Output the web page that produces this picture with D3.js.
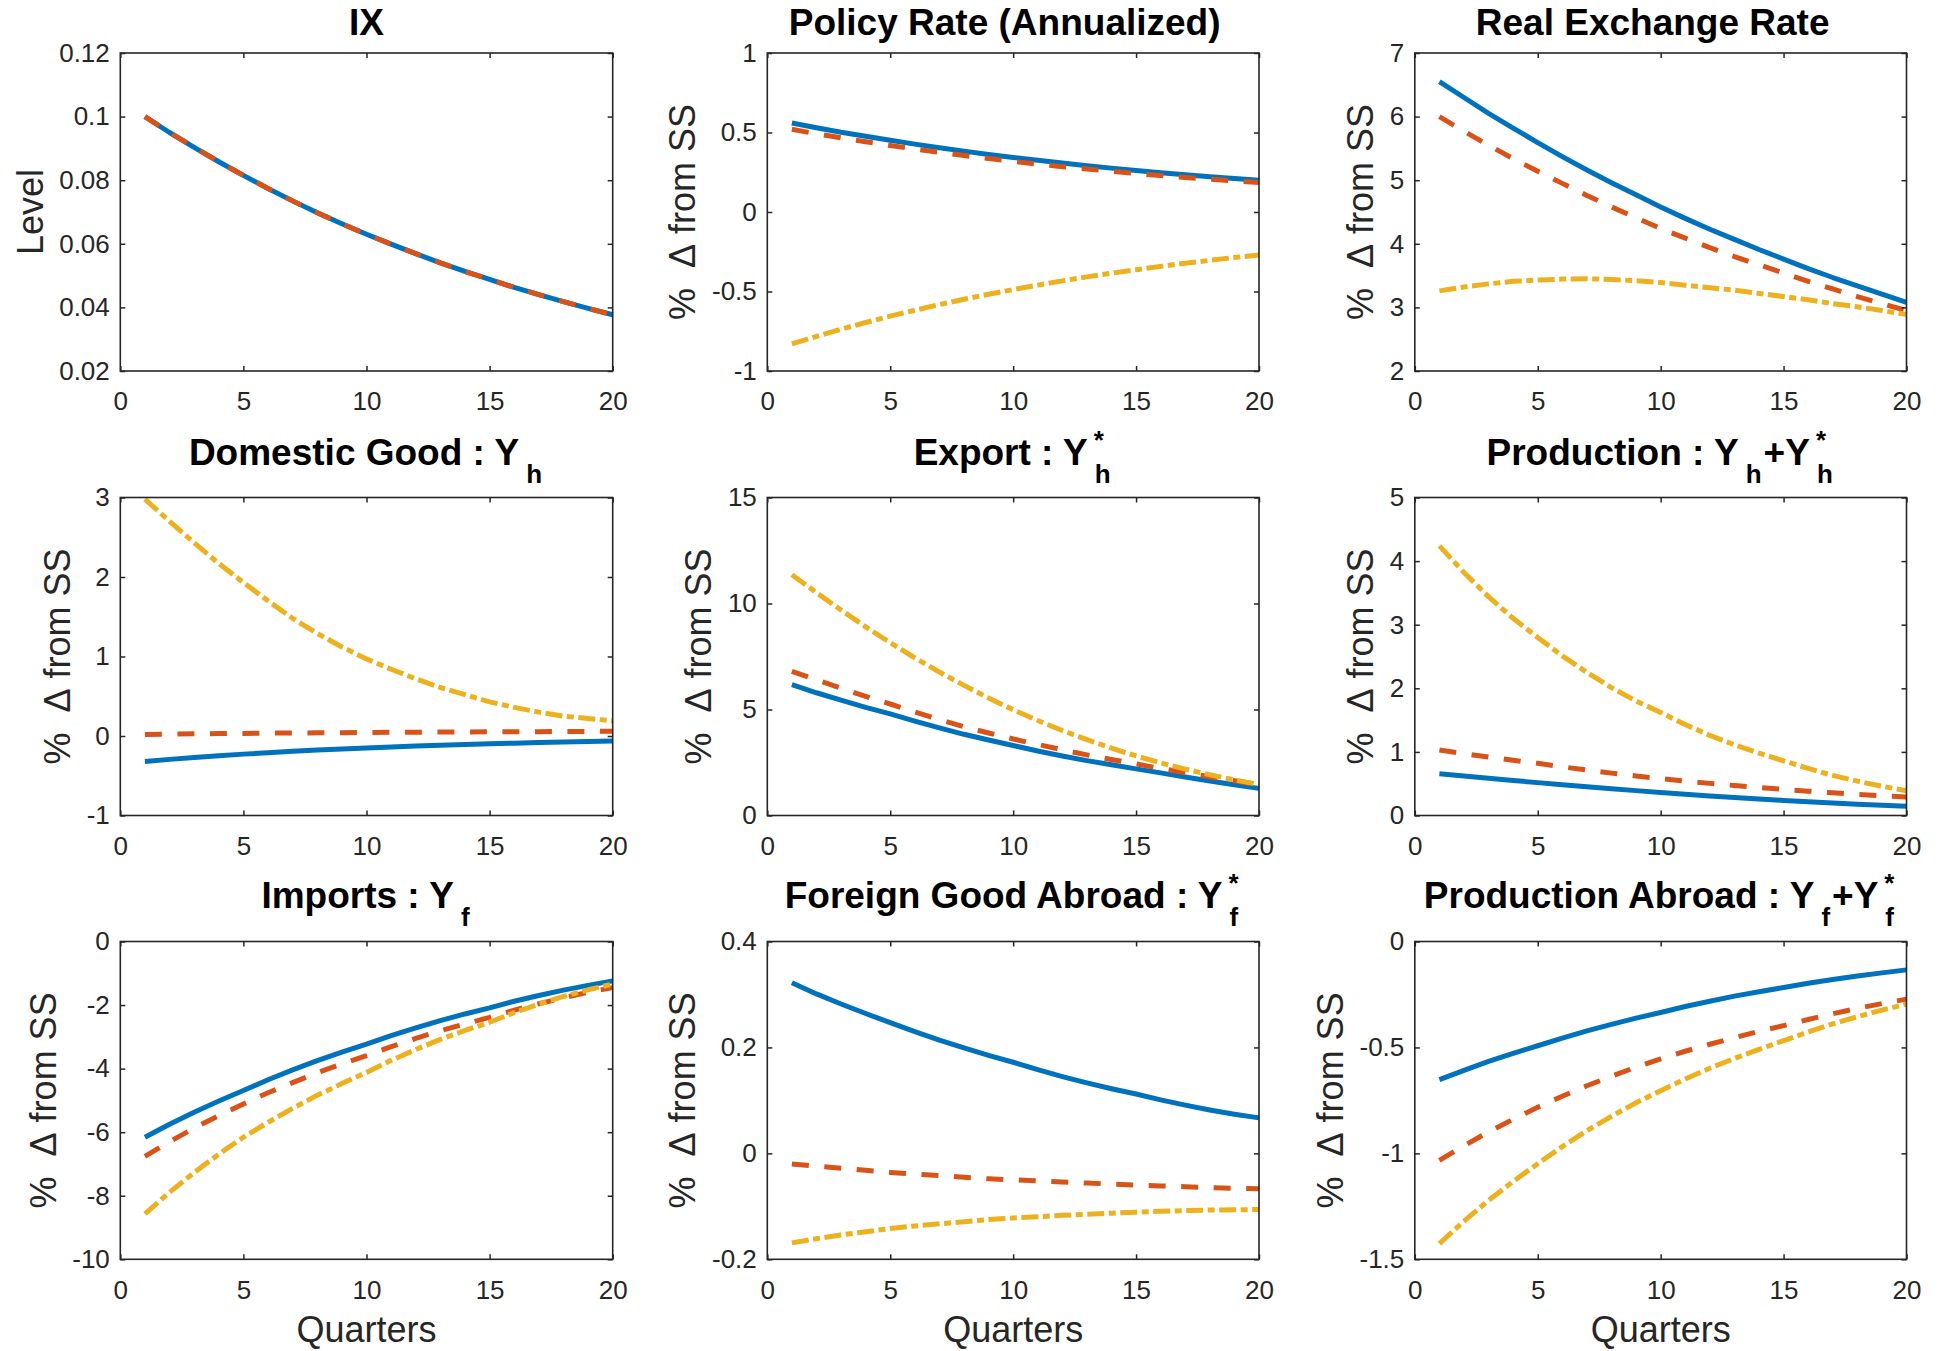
<!DOCTYPE html>
<html>
<head>
<meta charset="utf-8">
<script src="https://cdn.jsdelivr.net/npm/d3@7"></script>
<style>
  html, body { margin: 0; padding: 0; background: #ffffff; }
  svg text { font-family: "Liberation Sans", Arial, Helvetica, sans-serif; }
</style>
</head>
<body>
<svg id="fig" width="1944" height="1351"></svg>
<script>
// ---- data -------------------------------------------------------------
const quarters = [1,2,3,4,5,6,7,8,9,10,11,12,13,14,15,16,17,18,19,20];
const xTicks = [0,5,10,15,20];

// IX
const ixTicks = [0.02,0.04,0.06,0.08,0.1,0.12];
const ixS1 = [0.1000,0.0950,0.0903,0.0858,0.0815,0.0774,0.0735,0.0698,0.0663,0.0630,0.0599,0.0569,0.0540,0.0513,0.0488,0.0463,0.0440,0.0418,0.0397,0.0377];
const ixS2 = [0.1000,0.0950,0.0903,0.0858,0.0815,0.0774,0.0735,0.0698,0.0663,0.0630,0.0599,0.0569,0.0540,0.0513,0.0488,0.0463,0.0440,0.0418,0.0397,0.0377];

// Policy rate (annualized)
const rateTicks = [-1,-0.5,0,0.5,1];
const rateS1 = [0.560,0.530,0.502,0.476,0.451,0.427,0.404,0.383,0.362,0.343,0.325,0.308,0.291,0.276,0.261,0.247,0.234,0.222,0.210,0.199];
const rateS2 = [0.520,0.492,0.466,0.442,0.418,0.396,0.375,0.355,0.336,0.318,0.301,0.285,0.270,0.256,0.242,0.229,0.217,0.206,0.195,0.185];
const rateS3 = [-0.830,-0.782,-0.737,-0.695,-0.655,-0.618,-0.582,-0.549,-0.517,-0.488,-0.460,-0.433,-0.408,-0.385,-0.363,-0.342,-0.322,-0.304,-0.286,-0.270];

// Real exchange rate
const rerTicks = [2,3,4,5,6,7];
const rerS1 = [6.55,6.30,6.05,5.82,5.59,5.37,5.16,4.96,4.77,4.58,4.40,4.23,4.07,3.91,3.76,3.61,3.47,3.34,3.21,3.08];
const rerS2 = [6.00,5.77,5.55,5.34,5.14,4.95,4.76,4.58,4.41,4.24,4.09,3.94,3.80,3.67,3.54,3.41,3.29,3.17,3.06,2.95];
const rerS3 = [3.26,3.32,3.37,3.41,3.43,3.445,3.45,3.44,3.42,3.39,3.35,3.31,3.27,3.22,3.17,3.12,3.06,3.01,2.95,2.89];

// Domestic good
const yhTicks = [-1,0,1,2,3];
const yhS1 = [-0.320,-0.294,-0.270,-0.248,-0.228,-0.210,-0.193,-0.177,-0.163,-0.150,-0.138,-0.126,-0.116,-0.107,-0.098,-0.090,-0.083,-0.076,-0.070,-0.064];
const yhS2 = [0.020,0.024,0.027,0.030,0.033,0.036,0.038,0.040,0.042,0.044,0.046,0.048,0.050,0.051,0.053,0.054,0.055,0.057,0.058,0.059];
const yhS3 = [2.98,2.70,2.43,2.17,1.93,1.70,1.48,1.29,1.12,0.97,0.84,0.72,0.61,0.52,0.43,0.36,0.30,0.25,0.22,0.19];

// Export
const exTicks = [0,5,10,15];
const exS1 = [6.17,5.79,5.44,5.10,4.79,4.45,4.13,3.83,3.56,3.30,3.04,2.81,2.59,2.39,2.20,2.01,1.82,1.63,1.45,1.28];
const exS2 = [6.80,6.40,6.00,5.62,5.26,4.88,4.52,4.19,3.89,3.61,3.35,3.10,2.86,2.64,2.43,2.22,2.02,1.83,1.64,1.45];
const exS3 = [11.36,10.51,9.69,8.90,8.15,7.44,6.77,6.14,5.54,4.99,4.48,4.01,3.58,3.18,2.81,2.48,2.19,1.92,1.68,1.46];

// Production
const prodTicks = [0,1,2,3,4,5];
const prodS1 = [0.655,0.620,0.585,0.551,0.517,0.484,0.452,0.421,0.391,0.362,0.334,0.308,0.283,0.259,0.237,0.216,0.196,0.178,0.161,0.145];
const prodS2 = [1.030,0.973,0.920,0.868,0.820,0.765,0.714,0.666,0.622,0.580,0.541,0.505,0.471,0.440,0.410,0.383,0.357,0.333,0.311,0.290];
const prodS3 = [4.24,3.82,3.44,3.10,2.80,2.51,2.25,2.01,1.80,1.62,1.43,1.26,1.11,0.98,0.86,0.74,0.63,0.54,0.46,0.39];

// Imports
const impTicks = [-10,-8,-6,-4,-2,0];
const impS1 = [-6.16,-5.75,-5.37,-5.02,-4.69,-4.35,-4.04,-3.75,-3.48,-3.23,-2.96,-2.72,-2.49,-2.28,-2.09,-1.88,-1.70,-1.53,-1.38,-1.24];
const impS2 = [-6.76,-6.30,-5.87,-5.48,-5.11,-4.76,-4.44,-4.13,-3.85,-3.59,-3.31,-3.05,-2.81,-2.59,-2.39,-2.16,-1.96,-1.77,-1.60,-1.45];
const impS3 = [-8.57,-7.89,-7.27,-6.69,-6.16,-5.69,-5.25,-4.84,-4.47,-4.12,-3.74,-3.40,-3.08,-2.80,-2.54,-2.24,-1.97,-1.73,-1.52,-1.34];

// Foreign good abroad
const yfsTicks = [-0.2,0,0.2,0.4];
const yfsS1 = [0.322,0.301,0.282,0.264,0.247,0.230,0.214,0.199,0.185,0.172,0.158,0.145,0.133,0.122,0.112,0.101,0.091,0.082,0.074,0.067];
const yfsS2 = [-0.020,-0.024,-0.028,-0.032,-0.036,-0.039,-0.042,-0.045,-0.048,-0.050,-0.052,-0.054,-0.056,-0.058,-0.060,-0.0615,-0.063,-0.0645,-0.066,-0.067];
const yfsS3 = [-0.169,-0.161,-0.154,-0.148,-0.142,-0.137,-0.133,-0.129,-0.125,-0.122,-0.1195,-0.117,-0.115,-0.113,-0.111,-0.1095,-0.108,-0.107,-0.1065,-0.106];

// Production abroad
const pabTicks = [-1.5,-1,-0.5,0];
const pabS1 = [-0.652,-0.608,-0.566,-0.528,-0.492,-0.456,-0.422,-0.391,-0.362,-0.335,-0.307,-0.282,-0.258,-0.237,-0.217,-0.197,-0.179,-0.163,-0.148,-0.134];
const pabS2 = [-1.033,-0.964,-0.899,-0.839,-0.782,-0.730,-0.681,-0.636,-0.593,-0.554,-0.518,-0.485,-0.454,-0.424,-0.397,-0.368,-0.341,-0.316,-0.293,-0.272];
const pabS3 = [-1.426,-1.320,-1.222,-1.132,-1.049,-0.968,-0.893,-0.825,-0.761,-0.704,-0.649,-0.598,-0.552,-0.509,-0.468,-0.427,-0.389,-0.355,-0.324,-0.295];

// ---- panel definitions -----------------------------------------------
const pctLabel = "% Δ from SS";
const panels = [
  { title: [{t: "IX"}], ylabel: "Level", ticks: ixTicks, series: [ixS1, ixS2] },
  { title: [{t: "Policy Rate (Annualized)"}], ylabel: pctLabel, ticks: rateTicks, series: [rateS1, rateS2, rateS3] },
  { title: [{t: "Real Exchange Rate"}], ylabel: pctLabel, ticks: rerTicks, series: [rerS1, rerS2, rerS3] },
  { title: [{t: "Domestic Good : Y"}, {sub: "h"}], ylabel: pctLabel, ticks: yhTicks, series: [yhS1, yhS2, yhS3] },
  { title: [{t: "Export : Y"}, {sub: "h", sup: "*"}], ylabel: pctLabel, ticks: exTicks, series: [exS1, exS2, exS3] },
  { title: [{t: "Production : Y"}, {sub: "h"}, {t: "+Y"}, {sub: "h", sup: "*"}], ylabel: pctLabel, ticks: prodTicks, series: [prodS1, prodS2, prodS3] },
  { title: [{t: "Imports : Y"}, {sub: "f"}], ylabel: pctLabel, ticks: impTicks, series: [impS1, impS2, impS3], xlabel: "Quarters" },
  { title: [{t: "Foreign Good Abroad : Y"}, {sub: "f", sup: "*"}], ylabel: pctLabel, ticks: yfsTicks, series: [yfsS1, yfsS2, yfsS3], xlabel: "Quarters" },
  { title: [{t: "Production Abroad : Y"}, {sub: "f"}, {t: "+Y"}, {sub: "f", sup: "*"}], ylabel: pctLabel, ticks: pabTicks, series: [pabS1, pabS2, pabS3], xlabel: "Quarters" }
];

const lineStyles = [
  { color: "#0072BD", dash: null },
  { color: "#D95319", dash: "17,15.5" },
  { color: "#EDB120", dash: "17,4.5,7,4.5" }
];

// ---- layout -------------------------------------------------------------
const colX = [[120.3, 612.7], [767.3, 1259.0], [1414.8, 1906.5]];
const rowY = [[53.0, 371.0], [497.5, 815.5], [941.5, 1259.3]];
const titleBase = [35, 465, 908];
const titleShift = [0, -8.5, -8, 0, 0, 0, 0, 0, 0];
const axisColor = "#262626";
const tickFont = 26, labelFont = 36, titleFont = 37;

const svg = d3.select("#fig");

// Title with TeX-like sub/superscripts laid out token by token
function drawTitle(g, tokens, cx, baseline) {
  const tg = g.append("g").attr("font-weight", "bold").attr("fill", "#000");
  let x = 0;
  const small = Math.round(titleFont * 0.7);
  tokens.forEach(tok => {
    if (tok.t !== undefined) {
      const el = tg.append("text").attr("x", x).attr("y", 0)
        .attr("font-size", titleFont).text(tok.t);
      x += el.node().getComputedTextLength();
    } else {
      x += 7;
      let w = 0;
      const s = tg.append("text").attr("x", x).attr("y", 17.5)
        .attr("font-size", small).text(tok.sub);
      w = Math.max(w, s.node().getComputedTextLength());
      if (tok.sup) {
        const p = tg.append("text").attr("x", x - 1).attr("y", -16)
          .attr("font-size", small).text(tok.sup);
        w = Math.max(w, p.node().getComputedTextLength());
      }
      x += w + 2;
    }
  });
  tg.attr("transform", `translate(${cx - x / 2},${baseline})`);
}

panels.forEach((p, i) => {
  const r = Math.floor(i / 3), c = i % 3;
  const [x0, x1] = colX[c], [y0, y1] = rowY[r];
  const x = d3.scaleLinear().domain([0, 20]).range([x0, x1]);
  const y = d3.scaleLinear().domain(d3.extent(p.ticks)).range([y1, y0]);
  const g = svg.append("g");

  // plotted responses
  const line = d3.line().x((d, k) => x(quarters[k])).y(d => y(d));
  p.series.forEach((vals, k) => {
    const st = lineStyles[k];
    g.append("path").datum(vals)
      .attr("d", line)
      .attr("fill", "none")
      .attr("stroke", st.color)
      .attr("stroke-width", 5)
      .attr("stroke-linejoin", "round")
      .attr("stroke-dasharray", st.dash);
  });

  // axes with inward ticks on all four sides
  const fmt = d => String(d);
  const ax = [
    g.append("g").attr("transform", `translate(0,${y1})`)
      .call(d3.axisBottom(x).tickValues(xTicks).tickFormat(fmt).tickSize(-5).tickPadding(21)),
    g.append("g").attr("transform", `translate(0,${y0})`)
      .call(d3.axisTop(x).tickValues(xTicks).tickFormat("").tickSize(-5)),
    g.append("g").attr("transform", `translate(${x0},0)`)
      .call(d3.axisLeft(y).tickValues(p.ticks).tickFormat(fmt).tickSize(-5).tickPadding(10.5)),
    g.append("g").attr("transform", `translate(${x1},0)`)
      .call(d3.axisRight(y).tickValues(p.ticks).tickFormat("").tickSize(-5))
  ];
  ax.forEach(a => {
    a.select(".domain").remove();
    a.selectAll("line").attr("stroke", axisColor).attr("stroke-width", 1.5);
    a.selectAll("text").attr("fill", axisColor).attr("font-size", tickFont)
      .attr("font-family", "Liberation Sans, Arial, sans-serif");
  });
  g.append("rect").attr("x", x0).attr("y", y0)
    .attr("width", x1 - x0).attr("height", y1 - y0)
    .attr("fill", "none").attr("stroke", axisColor).attr("stroke-width", 1.6);

  // y label placed clear of the widest tick label
  let maxW = 0;
  ax[2].selectAll("text").each(function () { maxW = Math.max(maxW, this.getComputedTextLength()); });
  const lx = x0 - 10.5 - maxW - 16.5;
  const yl = g.append("text")
    .attr("transform", `translate(${lx},${(y0 + y1) / 2}) rotate(-90)`)
    .attr("text-anchor", "middle").attr("font-size", labelFont).attr("fill", axisColor);
  if (p.ylabel === pctLabel) {
    yl.append("tspan").text("%");
    yl.append("tspan").attr("dx", 20).text("Δ");
    yl.append("tspan").attr("dx", 10).text("from SS");
  } else {
    yl.text(p.ylabel);
  }

  if (p.xlabel) {
    g.append("text").attr("x", (x0 + x1) / 2).attr("y", y1 + 82.5)
      .attr("text-anchor", "middle").attr("font-size", labelFont)
      .attr("fill", axisColor).text(p.xlabel);
  }

  drawTitle(g, p.title, (x0 + x1) / 2 + titleShift[i], titleBase[r]);
});
</script>
</body>
</html>
